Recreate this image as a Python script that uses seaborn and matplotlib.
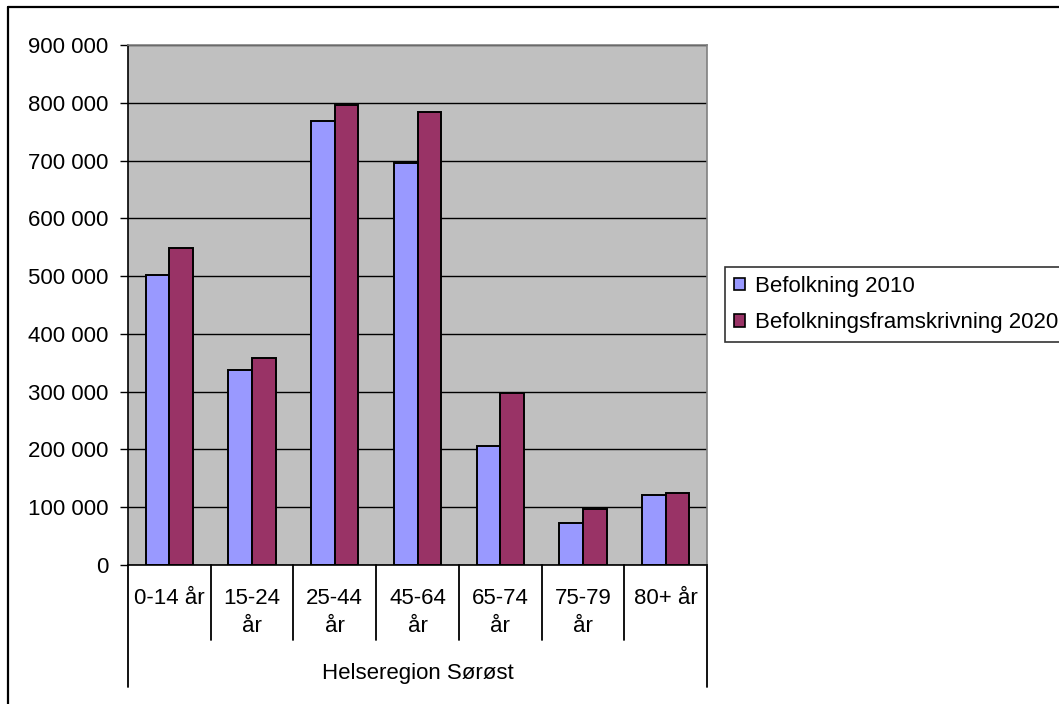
import matplotlib
matplotlib.use("Agg")
import matplotlib.pyplot as plt
from matplotlib.lines import Line2D
from matplotlib.ticker import FuncFormatter
import seaborn as sns
import pandas as pd

categories = ["0-14 år", "15-24 år", "25-44 år", "45-64 år", "65-74 år", "75-79 år", "80+ år"]
cat_labels = ["0-14 år", "15-24\når", "25-44\når", "45-64\når", "65-74\når", "75-79\når", "80+ år"]
series_names = ["Befolkning 2010", "Befolkningsframskrivning 2020"]
values_2010 = [502000, 337000, 769000, 696000, 206000, 72000, 121000]
values_2020 = [548000, 359000, 796000, 784000, 297000, 97000, 124000]
group_label = "Helseregion Sørøst"
colors = ["#9999FF", "#993366"]

df = pd.DataFrame({
    "Alder": categories * 2,
    "Serie": [series_names[0]] * len(categories) + [series_names[1]] * len(categories),
    "Antall": values_2010 + values_2020,
})

sns.set_theme(style="white")
plt.rcParams["font.family"] = ["Liberation Sans", "DejaVu Sans"]
plt.rcParams["text.color"] = "black"
plt.rcParams["ytick.color"] = "black"
plt.rcParams["ytick.labelcolor"] = "black"
FS = 16

W, H = 1059, 704
fig = plt.figure(figsize=(W / 100, H / 100), dpi=100)
ax = fig.add_axes([128 / W, 1 - 565 / H, (707 - 128) / W, (565 - 45) / H])

sns.barplot(data=df, x="Alder", y="Antall", hue="Serie", order=categories,
            hue_order=series_names, palette=colors, saturation=1,
            width=0.57, edgecolor="black", linewidth=1.4, ax=ax, legend=True)

ax.set_facecolor("#C0C0C0")
ax.set_ylim(0, 900000)
ax.set_xlim(-0.5, len(categories) - 0.5)
ax.set_yticks(range(0, 900001, 100000))
ax.yaxis.set_major_formatter(FuncFormatter(lambda v, p: f"{int(v):,}".replace(",", " ")))
ax.tick_params(axis="y", which="major", direction="out", length=5.8, width=1,
               color="black", labelcolor="black", labelsize=FS, pad=8.5, left=True)
ax.tick_params(axis="x", bottom=False, labelbottom=False)
ax.set_xlabel("")
ax.set_ylabel("")
ax.yaxis.grid(True, color="black", linewidth=1)
ax.set_axisbelow(True)
for side in ["left", "bottom"]:
    ax.spines[side].set_color("black")
    ax.spines[side].set_linewidth(1.2)
for side in ["top", "right"]:
    ax.spines[side].set_color("#808080")
    ax.spines[side].set_linewidth(1.2)

# category table below axis
trans = ax.get_xaxis_transform()
ah = 520.0
inner_bottom = -(640 - 565) / ah
outer_bottom = -(687 - 565) / ah
n = len(categories)
for k in range(n + 1):
    xb = k - 0.5
    yb = outer_bottom if k in (0, n) else inner_bottom
    ax.add_line(Line2D([xb, xb], [0, yb], transform=trans, color="black",
                       linewidth=1.3, clip_on=False))
for i, lab in enumerate(cat_labels):
    ax.text(i, -(588 - 565) / ah, lab, transform=trans, ha="center", va="top",
            fontsize=FS, linespacing=1.45, color="black")
ax.text((n - 1) / 2, -(673 - 565) / ah, group_label, transform=trans,
        ha="center", va="center", fontsize=FS, color="black")

# legend
handles, labels = ax.get_legend_handles_labels()
if ax.get_legend() is not None:
    ax.get_legend().remove()
leg = fig.legend(handles, labels, loc="upper left",
                 bbox_to_anchor=(725 / W, 1 - 267 / H), bbox_transform=fig.transFigure,
                 fontsize=FS, frameon=True, fancybox=False, shadow=False,
                 borderaxespad=0, borderpad=0.4, handlelength=0.5, handleheight=0.5,
                 handletextpad=0.45, labelspacing=0.7, labelcolor="black")
leg.get_frame().set_edgecolor("black")
leg.get_frame().set_linewidth(1.2)
for h in leg.legend_handles:
    h.set_edgecolor("black")
    h.set_linewidth(1.2)

# figure border (top and left visible)
fig.add_artist(Line2D([8 / W, 1.0], [1 - 7 / H, 1 - 7 / H], transform=fig.transFigure,
                      color="black", linewidth=1.6))
fig.add_artist(Line2D([8 / W, 8 / W], [0, 1 - 7 / H], transform=fig.transFigure,
                      color="black", linewidth=1.6))

fig.savefig("out.png", dpi=100, facecolor="white")
